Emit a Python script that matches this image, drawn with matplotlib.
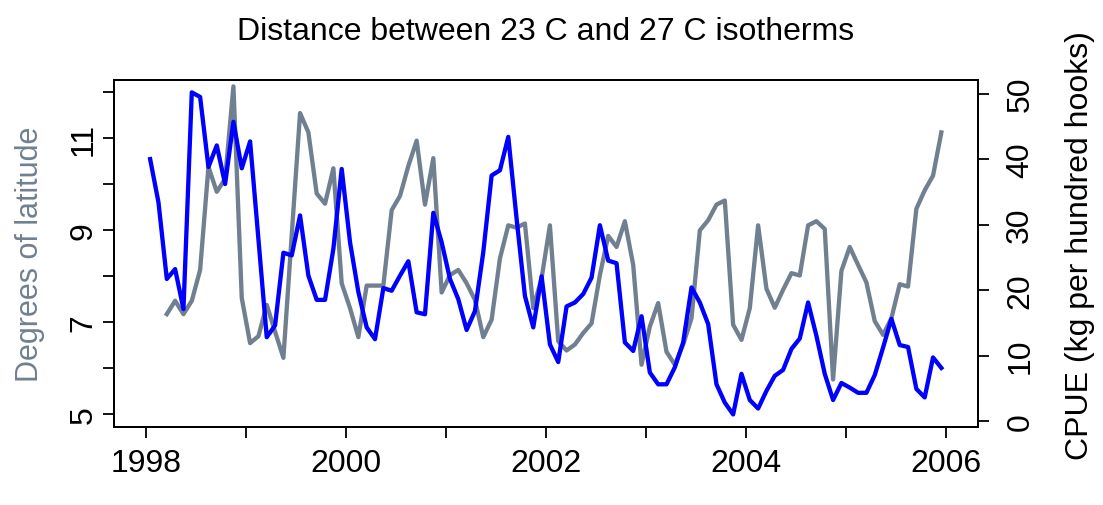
import numpy as np
import matplotlib
matplotlib.use("Agg")
import matplotlib.pyplot as plt

plt.rcParams['font.family'] = ['Liberation Sans', 'DejaVu Sans']

# Monthly series, Jan 1998 - Dec 2005 (mid-month time stamps)
start_year = 1998
n_months = 96

# Distance between 23 C and 27 C isotherms (degrees of latitude); first two months missing
isotherm_distance = [
    np.nan, np.nan, 7.18, 7.47, 7.18, 7.47, 8.14, 10.38, 9.84, 10.12, 12.13, 7.53,
    6.55, 6.70, 7.38, 6.80, 6.23, 8.90, 11.55, 11.13, 9.80, 9.58, 10.35, 7.85,
    7.31, 6.68, 7.80, 7.80, 7.80, 9.44, 9.75, 10.40, 10.95, 9.56, 10.57, 7.65,
    8.03, 8.14, 7.85, 7.49, 6.68, 7.06, 8.39, 9.11, 9.06, 9.15, 7.31, 7.96,
    9.11, 6.59, 6.39, 6.52, 6.77, 6.98, 8.03, 8.88, 8.64, 9.20, 8.25, 6.08,
    6.91, 7.42, 6.36, 6.08, 6.52, 7.09, 9.00, 9.22, 9.56, 9.65, 6.95, 6.62,
    7.31, 9.11, 7.73, 7.32, 7.71, 8.07, 8.02, 9.11, 9.20, 9.03, 5.76, 8.12,
    8.64, 8.25, 7.87, 7.03, 6.73, 7.09, 7.83, 7.78, 9.47, 9.87, 10.19, 11.13,
]

# CPUE (kg per hundred hooks)
cpue = [
    40.0, 33.4, 21.7, 23.2, 17.1, 50.2, 49.5, 38.8, 42.1, 36.2, 45.7, 38.6,
    42.7, 27.8, 12.8, 14.6, 25.7, 25.3, 31.4, 22.2, 18.5, 18.5, 26.3, 38.5,
    27.3, 19.7, 14.3, 12.5, 20.3, 19.9, 22.2, 24.4, 16.6, 16.3, 31.8, 27.3,
    21.7, 18.6, 13.9, 16.8, 25.8, 37.5, 38.3, 43.4, 30.9, 19.1, 14.3, 22.1,
    11.7, 9.0, 17.5, 18.1, 19.4, 21.9, 29.9, 24.5, 24.1, 12.0, 10.7, 16.0,
    7.4, 5.6, 5.6, 8.2, 12.0, 20.4, 18.1, 14.8, 5.6, 2.8, 1.0, 7.2,
    3.2, 1.9, 4.6, 6.9, 7.8, 11.0, 12.6, 18.1, 13.0, 7.2, 3.2, 5.8,
    5.1, 4.3, 4.3, 7.0, 11.2, 15.6, 11.6, 11.3, 4.9, 3.6, 9.7, 8.1,
]

year_ticks = list(range(1998, 2007))
year_labels = ["1998", "", "2000", "", "2002", "", "2004", "", "2006"]
lat_ticks = list(range(5, 13))
lat_labels = ["5", "", "7", "", "9", "", "11", ""]
cpue_ticks = [0, 10, 20, 30, 40, 50]
cpue_labels = ["0", "10", "20", "30", "40", "50"]

title = "Distance between 23 C and 27 C isotherms"
left_label = "Degrees of latitude"
right_label = "CPUE (kg per hundred hooks)"

grey = "#708090"
blue = "#0000FF"

t = start_year + (np.arange(n_months) + 0.5) / 12.0

W, H = 1103, 506
fig = plt.figure(figsize=(W / 100, H / 100), dpi=100)
L, R, T, B = 114, 977.5, 80.5, 428.3
ax = fig.add_axes([L / W, 1 - B / H, (R - L) / W, (B - T) / H])

fs = 23
lw = 3.1
ax.plot(t, isotherm_distance, color=grey, lw=lw, solid_joinstyle='round')
ax.set_xlim(1997.68, 2006.32)
ax.set_ylim(4.72, 12.28)
ax.set_xticks(year_ticks)
ax.set_xticklabels(year_labels)
ax.set_yticks(lat_ticks)
ax.set_yticklabels(lat_labels, rotation=90, va='center')
ax.tick_params(axis='both', direction='out', length=8, width=1.3, labelsize=fs, color='black')
ax.tick_params(axis='x', pad=7)
ax.tick_params(axis='y', pad=3)
for s in ax.spines.values():
    s.set_linewidth(1.3)
    s.set_color('black')

ax2 = ax.twinx()
ax2.plot(t, cpue, color=blue, lw=lw, solid_joinstyle='round')
ymin, ymax = np.nanmin(cpue), np.nanmax(cpue)
ext = 0.04 * (ymax - ymin)
ax2.set_ylim(ymin - ext, ymax + ext)
ax2.set_yticks(cpue_ticks)
ax2.set_yticklabels(cpue_labels, rotation=90, va='center')
ax2.tick_params(axis='y', direction='out', length=8, width=1.3, labelsize=fs, pad=12)
for s in ax2.spines.values():
    s.set_linewidth(1.3)
    s.set_color('black')

ax.set_ylabel(left_label, color=grey, fontsize=22, va='center', ha='center')
ax.yaxis.set_label_coords((30 - L) / (R - L), 0.5)
ax2.set_ylabel(right_label, color='black', fontsize=fs, va='center', ha='center', rotation=90)
ax2.yaxis.set_label_coords((1080 - L) / (R - L), 0.5 + 9 / (B - T))

ax.set_title(title, fontsize=fs, pad=0, y=(B - 40) / (B - T), va='baseline')

fig.savefig("out.png", dpi=100)
